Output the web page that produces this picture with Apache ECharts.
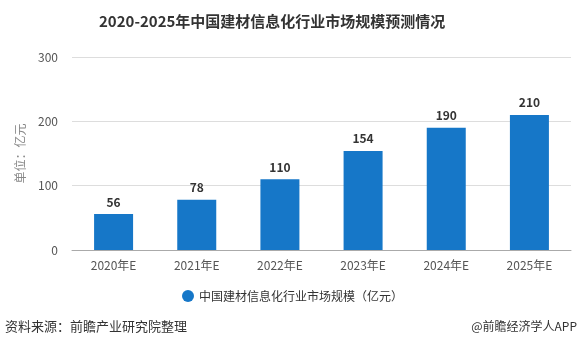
<!DOCTYPE html>
<html>
<head>
<meta charset="utf-8">
<script src="https://cdn.jsdelivr.net/npm/echarts@6/dist/echarts.min.js"></script>
<style>
html, body { margin: 0; padding: 0; background: #fff; }
#main { width: 585px; height: 351px; }
</style>
</head>
<body>
<div id="main"></div>
<script>
var years = ['2020年E', '2021年E', '2022年E', '2023年E', '2024年E', '2025年E'];
var marketSize = [56, 78, 110, 154, 190, 210];
var seriesName = '中国建材信息化行业市场规模（亿元）';

var chart = echarts.init(document.getElementById('main'));
chart.setOption({
    textStyle: { fontFamily: '"Noto Sans CJK SC", sans-serif' },
    title: {
        text: '2020-2025年中国建材信息化行业市场规模预测情况',
        left: 94,
        top: 9,
        textStyle: { fontSize: 15, fontWeight: 'bold', color: '#333' }
    },
    grid: { left: 72, right: 14, top: 57, bottom: 101 },
    legend: {
        bottom: 44,
        left: 'center',
        icon: 'circle',
        itemWidth: 12,
        itemHeight: 12,
        textStyle: { fontSize: 12, color: '#333' },
        data: [seriesName]
    },
    xAxis: {
        type: 'category',
        data: years,
        axisLine: { lineStyle: { color: '#aaa' } },
        axisTick: { alignWithLabel: true, length: 5, lineStyle: { color: '#aaa' } },
        axisLabel: { color: '#555', fontSize: 12, margin: 9 }
    },
    yAxis: {
        type: 'value',
        min: 0,
        max: 300,
        interval: 100,
        name: '单位：亿元',
        nameLocation: 'middle',
        nameGap: 46,
        nameTextStyle: { color: '#888', fontSize: 12 },
        axisLine: { show: false },
        axisTick: { show: false },
        axisLabel: { color: '#555', fontSize: 12, margin: 14 },
        splitLine: { lineStyle: { color: '#ddd' } }
    },
    series: [{
        name: seriesName,
        type: 'bar',
        data: marketSize,
        barWidth: 39,
        itemStyle: { color: '#1677c8' },
        label: {
            show: true,
            position: 'top',
            fontWeight: 'bold',
            fontSize: 12,
            color: '#333',
            distance: 6
        }
    }],
    graphic: [
        {
            type: 'text', left: 5, top: 320,
            style: { text: '资料来源：前瞻产业研究院整理', fill: '#333',
                     font: '13px "Noto Sans CJK SC", sans-serif' }
        },
        {
            type: 'text', right: 8, top: 320,
            style: { text: '@前瞻经济学人APP', fill: '#333',
                     font: '12px "Noto Sans CJK SC", sans-serif' }
        }
    ]
});
</script>
</body>
</html>
